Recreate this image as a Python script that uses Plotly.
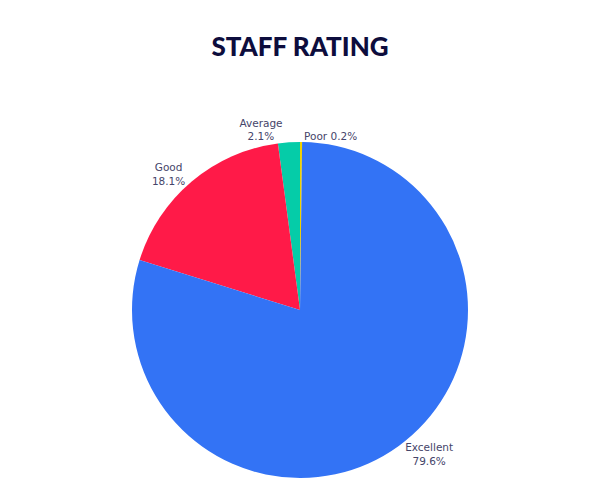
import plotly.graph_objects as go

labels = ["Poor", "Average", "Good", "Excellent"]
values = [0.2, 2.1, 18.1, 79.6]
colors = ["#F2D100", "#05CCA8", "#FF1A48", "#3373F5"]
templates = ["%{label} %{percent:.1%}", "%{label}<br>%{percent:.1%}",
             "%{label}<br>%{percent:.1%}", "%{label}<br>%{percent:.1%}"]

fig = go.Figure(go.Pie(
    labels=labels,
    values=values,
    sort=False,
    direction="counterclockwise",
    rotation=0,
    marker=dict(colors=colors, line=dict(width=0)),
    textposition="outside",
    texttemplate=templates,
    textfont=dict(family="DejaVu Sans, sans-serif", size=10.5, color="#45456a"),
    showlegend=False,
    hole=0,
))

fig.update_layout(
    width=600, height=500,
    paper_bgcolor="white", plot_bgcolor="white",
    margin=dict(l=80, r=80, t=142, b=22),
    title=dict(text="STAFF RATING", x=0.5, xanchor="center",
               y=1 - 47 / 500, yanchor="middle", yref="container",
               font=dict(family="Lato, sans-serif", size=26, weight=900,
                         color="#0d0d3d")),
)

fig.write_html("out.html", config={"displayModeBar": False},
               post_script="document.body.style.margin='0';")
